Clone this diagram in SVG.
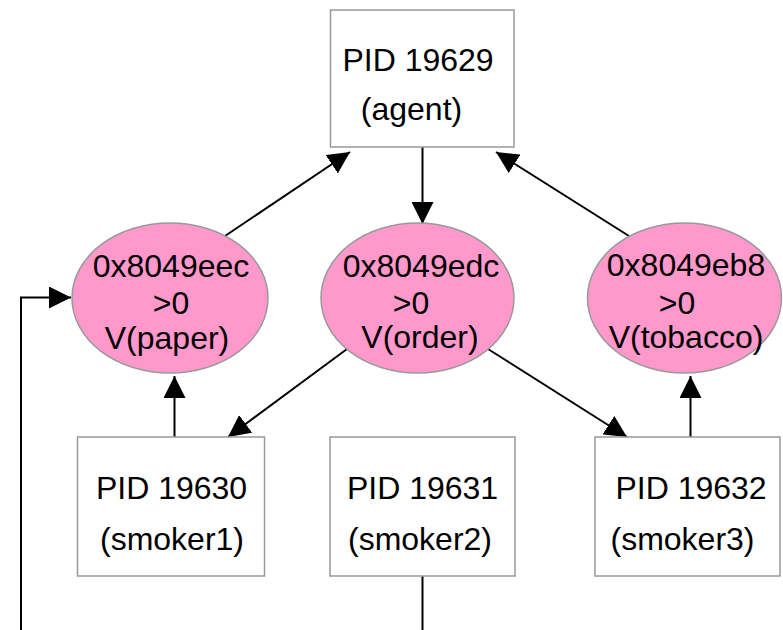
<svg xmlns="http://www.w3.org/2000/svg" width="783" height="630" viewBox="0 0 783 630">
  <style>
    .box { fill: #ffffff; stroke: #999999; stroke-width: 1.5; }
    .sem { fill: #ff99cc; stroke: #999999; stroke-width: 1.5; }
    .lbl { font-family: "Liberation Sans", Arial, sans-serif; font-size: 32px; fill: #000000; text-anchor: middle; }
    .edge { fill: none; stroke: #000000; stroke-width: 2; }
  </style>
  <defs>
    <marker id="arrow" markerUnits="userSpaceOnUse" markerWidth="22" markerHeight="22" refX="22" refY="11" orient="auto">
      <path d="M0,0 L22,11 L0,22 z" fill="#000000"/>
    </marker>
  </defs>
  <rect width="783" height="630" fill="#ffffff"/>

  <g id="connectors">
    <line class="edge" x1="225" y1="236" x2="350" y2="152" marker-end="url(#arrow)"/>
    <line class="edge" x1="629" y1="236" x2="496" y2="152" marker-end="url(#arrow)"/>
    <line class="edge" x1="422.5" y1="147" x2="422.5" y2="224" marker-end="url(#arrow)"/>
    <line class="edge" x1="347" y1="349" x2="228" y2="437" marker-end="url(#arrow)"/>
    <line class="edge" x1="488" y1="349" x2="627" y2="437" marker-end="url(#arrow)"/>
    <line class="edge" x1="174.5" y1="437" x2="174.5" y2="376" marker-end="url(#arrow)"/>
    <line class="edge" x1="690.5" y1="437" x2="690.5" y2="376" marker-end="url(#arrow)"/>
    <line class="edge" x1="422.5" y1="576" x2="422.5" y2="632"/>
    <polyline class="edge" points="21,632 21,297.5 71,297.5" marker-end="url(#arrow)"/>
  </g>

  <g id="agent">
    <rect class="box" x="330.5" y="10" width="183.5" height="137"/>
    <text class="lbl" x="418" y="71">PID 19629</text>
    <text class="lbl" x="411.5" y="120">(agent)</text>
  </g>

  <g id="sem-paper">
    <ellipse class="sem" cx="170" cy="298" rx="98" ry="75"/>
    <text class="lbl" x="171" y="277">0x8049eec</text>
    <text class="lbl" x="171" y="314">&gt;0</text>
    <text class="lbl" x="167" y="349">V(paper)</text>
  </g>

  <g id="sem-order">
    <ellipse class="sem" cx="417.5" cy="298" rx="96.5" ry="75"/>
    <text class="lbl" x="421" y="277">0x8049edc</text>
    <text class="lbl" x="411" y="314">&gt;0</text>
    <text class="lbl" x="420" y="348">V(order)</text>
  </g>

  <g id="sem-tobacco">
    <ellipse class="sem" cx="684.5" cy="298" rx="97" ry="75"/>
    <text class="lbl" x="686" y="276">0x8049eb8</text>
    <text class="lbl" x="677" y="314">&gt;0</text>
    <text class="lbl" x="686" y="348">V(tobacco)</text>
  </g>

  <g id="smoker1">
    <rect class="box" x="77.5" y="437" width="187" height="139"/>
    <text class="lbl" x="171.5" y="499">PID 19630</text>
    <text class="lbl" x="172" y="550">(smoker1)</text>
  </g>

  <g id="smoker2">
    <rect class="box" x="330" y="437" width="185" height="139"/>
    <text class="lbl" x="422.5" y="499">PID 19631</text>
    <text class="lbl" x="420" y="550">(smoker2)</text>
  </g>

  <g id="smoker3">
    <rect class="box" x="595" y="437" width="185" height="139"/>
    <text class="lbl" x="691" y="499">PID 19632</text>
    <text class="lbl" x="682.5" y="550">(smoker3)</text>
  </g>
</svg>
